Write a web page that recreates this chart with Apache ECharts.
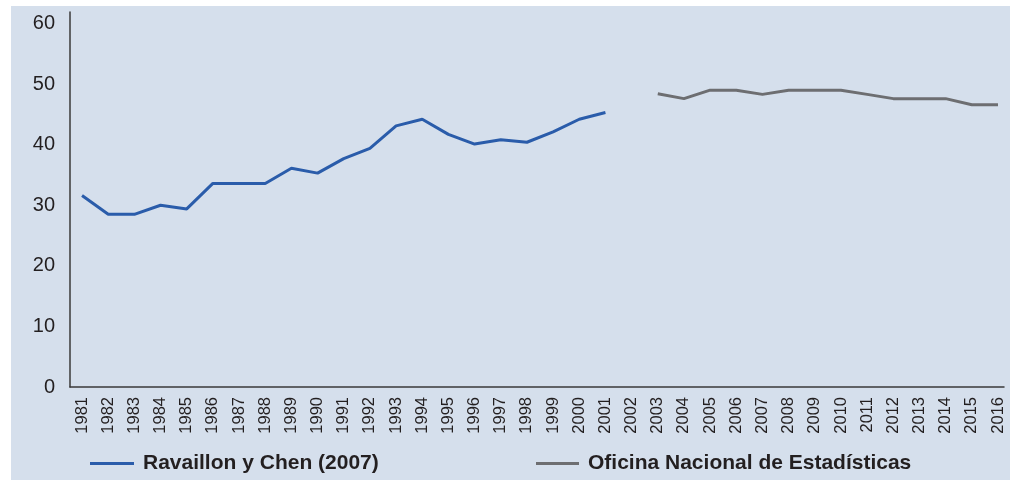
<!DOCTYPE html>
<html>
<head>
<meta charset="utf-8">
<script src="https://cdn.jsdelivr.net/npm/echarts@6/dist/echarts.min.js"></script>
<style>
  html, body { margin: 0; padding: 0; background: #ffffff; }
  #wrap { position: relative; width: 1010px; height: 480px; }
  #panel { position: absolute; left: 11px; top: 6px; right: 0; bottom: 0; background: #d5dfec; }
  #chart { position: absolute; left: 0; top: 0; width: 1010px; height: 480px; }
</style>
</head>
<body>
<div id="wrap"><div id="panel"></div><div id="chart"></div></div>
<script>
// ---- data ----
const years = [];
for (let y = 1981; y <= 2016; y++) years.push(y);
const yearsRC = [1981,1982,1983,1984,1985,1986,1987,1988,1989,1990,1991,1992,1993,1994,1995,1996,1997,1998,1999,2000,2001];
const valuesRC = [31.6,28.5,28.5,30.0,29.4,33.6,33.6,33.6,36.1,35.3,37.7,39.4,43.1,44.2,41.7,40.1,40.8,40.4,42.1,44.2,45.3];
const yearsONE = [2003,2004,2005,2006,2007,2008,2009,2010,2011,2012,2013,2014,2015,2016];
const valuesONE = [48.4,47.6,49.0,49.0,48.3,49.0,49.0,49.0,48.3,47.6,47.6,47.6,46.6,46.6];
const yTicks = [0,10,20,30,40,50,60];
const nameRC = 'Ravaillon y Chen (2007)';
const nameONE = 'Oficina Nacional de Estadísticas';

const font = "'Liberation Sans', Arial, sans-serif";
const chart = echarts.init(document.getElementById('chart'));
chart.setOption({
  backgroundColor: 'transparent',
  animation: false,
  grid: { left: 70, right: 6, top: 12, bottom: 93, containLabel: false },
  xAxis: {
    type: 'value',
    min: 1980.54,
    max: 2016.23,
    axisLine: { show: true, lineStyle: { color: '#3a3a3a', width: 1.5 } },
    axisTick: { show: false },
    splitLine: { show: false },
    axisLabel: {
      customValues: years,
      rotate: 90,
      margin: 10,
      fontSize: 16.5,
      fontFamily: font,
      color: '#231f20',
      formatter: v => String(v)
    }
  },
  yAxis: {
    type: 'value',
    min: 0,
    max: 61.9,
    axisLine: { show: true, lineStyle: { color: '#3a3a3a', width: 1.5 } },
    axisTick: { show: false },
    splitLine: { show: false },
    axisLabel: {
      customValues: yTicks,
      margin: 15,
      fontSize: 20,
      fontFamily: font,
      color: '#231f20',
      padding: [0, 0, 6, 0],
      formatter: v => String(v)
    }
  },
  legend: [
    {
      data: [nameRC], left: 90, top: 453, padding: 0,
      icon: 'rect', itemWidth: 44, itemHeight: 3,
      textStyle: { fontSize: 21, fontWeight: 'bold', fontFamily: font, color: '#231f20', padding: [0,0,0,4] }
    },
    {
      data: [nameONE], left: 536, top: 453, padding: 0,
      icon: 'rect', itemWidth: 43, itemHeight: 3,
      textStyle: { fontSize: 21, fontWeight: 'bold', fontFamily: font, color: '#231f20', padding: [0,0,0,4] }
    }
  ],
  series: [
    {
      name: nameRC, type: 'line', symbol: 'none',
      data: yearsRC.map((y, i) => [y, valuesRC[i]]),
      lineStyle: { color: '#2a5caa', width: 3 },
      itemStyle: { color: '#2a5caa' }
    },
    {
      name: nameONE, type: 'line', symbol: 'none',
      data: yearsONE.map((y, i) => [y, valuesONE[i]]),
      lineStyle: { color: '#6d6e71', width: 3 },
      itemStyle: { color: '#6d6e71' }
    }
  ]
});
</script>
</body>
</html>
